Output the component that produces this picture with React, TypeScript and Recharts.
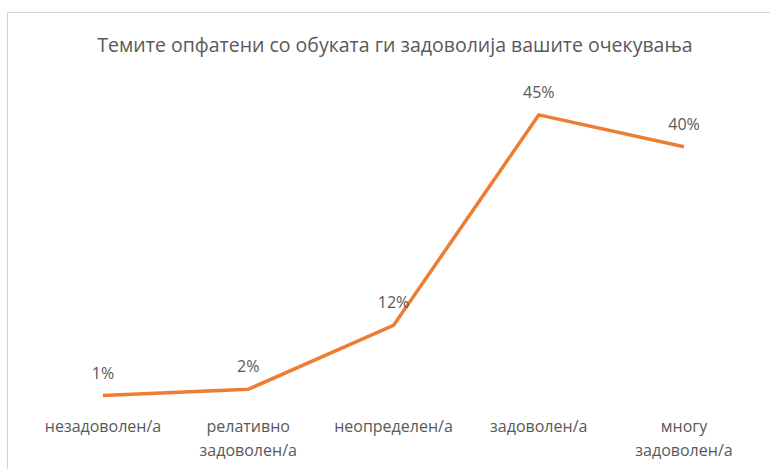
import React from "react";
import { LineChart, Line, XAxis, YAxis, LabelList } from "recharts";

const title = "Темите опфатени со обуката ги задоволија вашите очекувања";
const categories = [
  "незадоволен/а",
  "релативно\nзадоволен/а",
  "неопределен/а",
  "задоволен/а",
  "многу\nзадоволен/а",
];
const values = [1, 2, 12, 45, 40];

const data = categories.map((c, i) => ({ name: c, value: values[i] }));

const FONT = "'Open Sans', sans-serif";
const GRAY = "#595959";

const Tick = (props: any) => {
  const { x, y, payload } = props;
  const lines = String(payload.value).split("\n");
  return (
    <text x={x} y={y} textAnchor="middle" fill={GRAY} fontFamily={FONT} fontSize={16}>
      {lines.map((l, i) => (
        <tspan key={i} x={x} dy={i === 0 ? 22 : 24}>
          {l}
        </tspan>
      ))}
    </text>
  );
};

export default function App() {
  return (
    <div style={{ position: "absolute", left: 0, top: 0, width: 770, height: 469, background: "#fff", overflow: "hidden" }}>
      <div
        style={{
          position: "absolute",
          left: 0,
          top: 31,
          width: 790,
          textAlign: "center",
          fontFamily: FONT,
          fontSize: 19.5,
          color: GRAY,
        }}
      >
        {title}
      </div>
      <div style={{ position: "absolute", left: 0, top: 0 }}>
        <LineChart width={770} height={469} data={data} margin={{ top: 83, right: 13, left: 30, bottom: 17 }}>
          <XAxis
            dataKey="name"
            axisLine={false}
            tickLine={false}
            tick={<Tick />}
            height={50}
            interval={0}
            padding={{ left: 73, right: 73 }}
          />
          <YAxis hide domain={[0, 50]} />
          <Line
            type="linear"
            dataKey="value"
            stroke="#ED7D31"
            strokeWidth={3.5}
            dot={false}
            isAnimationActive={false}
          >
            <LabelList
              dataKey="value"
              position="top"
              offset={17}
              formatter={(v: any) => `${v}%`}
              fill={GRAY}
              fontFamily={FONT}
              fontSize={16}
            />
          </Line>
        </LineChart>
      </div>
      <div
        style={{
          position: "absolute",
          left: 7,
          top: 12,
          width: 780,
          height: 480,
          border: "1px solid #d4d4d4",
          boxSizing: "border-box",
          pointerEvents: "none",
        }}
      />
    </div>
  );
}
